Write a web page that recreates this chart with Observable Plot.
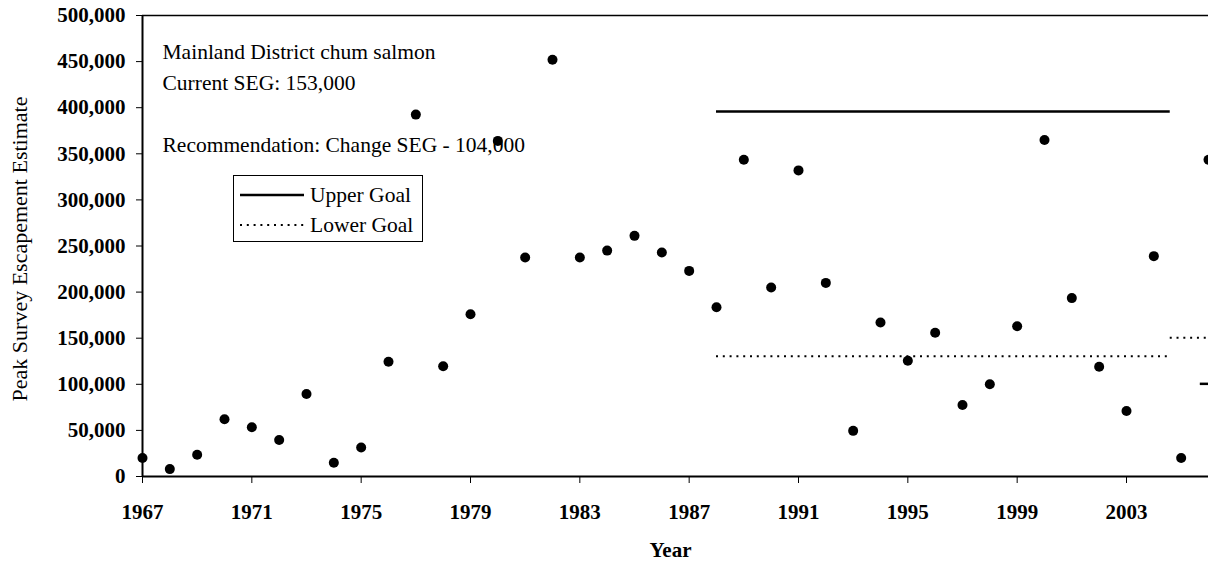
<!DOCTYPE html>
<html>
<head>
<meta charset="utf-8">
<script src="https://cdn.jsdelivr.net/npm/d3@7"></script>
<script src="https://cdn.jsdelivr.net/npm/@observablehq/plot@0.6"></script>
<style>
  html, body { margin: 0; padding: 0; background: #fff; overflow: hidden; }
  #wrap { position: relative; width: 1208px; height: 562px; overflow: hidden; }
  #legend {
    position: absolute; left: 233px; top: 175px; width: 190px; height: 67px;
    border: 1.5px solid #000; box-sizing: border-box; background: #fff;
    font-family: "Liberation Serif", "Times New Roman", serif; font-size: 21.5px; color: #000;
  }
  #legend .row { position: absolute; left: 6px; height: 30px; display: flex; align-items: center; }
  #legend svg { display: block; margin-right: 6px; }
  [aria-label^="x-axis"] text, [aria-label^="y-axis"] text { font-weight: bold; }
</style>
</head>
<body>
<div id="wrap"><div id="chart"></div><div id="legend"></div></div>
<script>
// ---- data ----
const years = [1967,1968,1969,1970,1971,1972,1973,1974,1975,1976,1977,1978,1979,1980,1981,1982,1983,1984,1985,1986,1987,1988,1989,1990,1991,1992,1993,1994,1995,1996,1997,1998,1999,2000,2001,2002,2003,2004,2005,2006];
const escapement = [20000,8000,23500,62000,53500,39500,89500,15000,31500,124500,392500,119500,176000,364000,237500,452000,237500,245000,261000,243000,223000,183500,343500,205000,332000,210000,49500,167000,125500,156000,77500,100000,163000,365000,193500,119000,71000,239000,20000,343500];

const goalLabels = ["Upper Goal", "Lower Goal", "Lower Goal", "Upper Goal"];
const goalStart  = [1988, 1988, 2004.6, 2005.7];
const goalEnd    = [2004.6, 2004.6, 2006, 2006];
const goalValue  = [396000, 130500, 150500, 100500];

const xTicks = [1967,1971,1975,1979,1983,1987,1991,1995,1999,2003];
const yTicks = [0,50000,100000,150000,200000,250000,300000,350000,400000,450000,500000];

const legendLabels = ["Upper Goal", "Lower Goal"];
const annotation = ["Mainland District chum salmon", "Current SEG: 153,000", "", "Recommendation: Change SEG - 104,000"];
const xLabel = "Year";
const yLabel = "Peak Survey Escapement Estimate";

// ---- tables ----
const points = years.map((y, i) => ({year: y, value: escapement[i]}));
const goals = goalLabels.map((g, i) => ({goal: g, start: goalStart[i], end: goalEnd[i], value: goalValue[i]}));
const DOT = "2,4.8";
const font = "'Liberation Serif', 'Times New Roman', serif";

const chart = Plot.plot({
  width: 1208,
  height: 562,
  marginLeft: 142,
  marginRight: 0,
  marginTop: 15,
  marginBottom: 86,
  style: {fontFamily: font, fontSize: "21px", background: "#fff", color: "#000", overflow: "visible"},
  x: {domain: [1967, 2006], ticks: xTicks, tickFormat: d => String(d), tickSize: 7, tickPadding: 21, label: null},
  y: {domain: [0, 500000], ticks: yTicks, tickFormat: d3.format(","), tickSize: 6, tickPadding: 11, label: null},
  marks: [
    Plot.ruleY([500000], {stroke: "#000", strokeWidth: 1.5}),
    Plot.ruleY([0], {stroke: "#000", strokeWidth: 2}),
    Plot.ruleX([1967], {stroke: "#000", strokeWidth: 2}),
    Plot.ruleY(goals.filter(d => d.goal === "Upper Goal"), {y: "value", x1: "start", x2: "end", stroke: "#000", strokeWidth: 2.5}),
    Plot.ruleY(goals.filter(d => d.goal === "Lower Goal"), {y: "value", x1: "start", x2: "end", stroke: "#000", strokeWidth: 2, strokeDasharray: DOT}),
    Plot.dot(points, {x: "year", y: "value", r: 5, fill: "#000", stroke: "none"}),
    Plot.text([annotation.join("\n")], {text: d => d, frameAnchor: "top-left", textAnchor: "start", lineAnchor: "top", lineHeight: 1.43, dx: 20, dy: 22, fontSize: 21.5, fill: "#000"}),
    Plot.text([yLabel], {text: d => d, frameAnchor: "left", textAnchor: "middle", lineAnchor: "middle", rotate: -90, dx: -123, dy: 3, fontSize: 22, fill: "#000"}),
    Plot.text([xLabel], {text: d => d, frameAnchor: "bottom", textAnchor: "middle", lineAnchor: "middle", dx: -5, dy: 74, fontWeight: "bold", fill: "#000"})
  ]
});
document.getElementById("chart").appendChild(chart);

// legend
const legend = document.getElementById("legend");
legendLabels.forEach((lab, i) => {
  const row = document.createElement("div");
  row.className = "row";
  row.style.top = (i === 0 ? 4 : 34) + "px";
  const dash = lab === "Lower Goal" ? `stroke-dasharray="${DOT}"` : "";
  const sw = lab === "Lower Goal" ? 2 : 2.5;
  row.innerHTML = `<svg width="64" height="10"><line x1="0" x2="64" y1="5" y2="5" stroke="#000" stroke-width="${sw}" ${dash}/></svg><span>${lab}</span>`;
  legend.appendChild(row);
});
</script>
</body>
</html>
